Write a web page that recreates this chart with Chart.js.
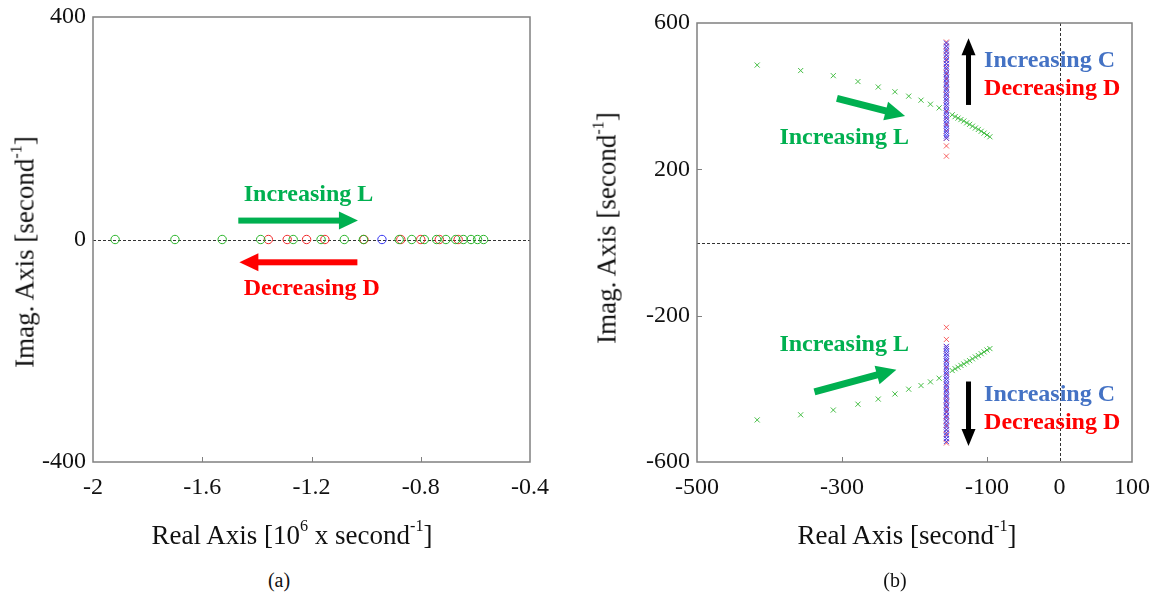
<!DOCTYPE html>
<html>
<head>
<meta charset="utf-8">
<script src="https://cdn.jsdelivr.net/npm/chart.js@4"></script>
<style>
  body { margin: 0; background: #fff; width: 1159px; height: 595px; position: relative; overflow: hidden; font-family: "Liberation Serif", serif; color: #111; }
  .box { position: absolute; top: 0; height: 520px; }
  #boxA { left: 0; width: 560px; }
  #boxB { left: 580px; width: 579px; }
  .lbl { position: absolute; font-size: 27px; white-space: nowrap; transform: translate(-50%, -50%); }
  .ylbl { transform: translate(-50%, -50%) rotate(-90deg); }
  .cap { font-size: 20px; }
  sup { font-size: 0.6em; vertical-align: 0.75em; line-height: 0; }
</style>
</head>
<body>
<div class="box" id="boxA"><canvas id="chartA"></canvas></div>
<div class="box" id="boxB"><canvas id="chartB"></canvas></div>

<div class="lbl ylbl" style="left:25px; top:252px;">Imag. Axis [second<sup>-1</sup>]</div>
<div class="lbl" style="left:292px; top:535px;">Real Axis [10<sup>6</sup> x second<sup>-1</sup>]</div>
<div class="lbl cap" style="left:279px; top:580px;">(a)</div>

<div class="lbl ylbl" style="left:607px; top:228px;">Imag. Axis [second<sup>-1</sup>]</div>
<div class="lbl" style="left:907px; top:535px;">Real Axis [second<sup>-1</sup>]</div>
<div class="lbl cap" style="left:895px; top:580px;">(b)</div>

<script>
// (a) real poles, 10^6 x second^-1 (all on the real axis)
const realL = [-1.919, -1.700, -1.527, -1.386, -1.267, -1.165, -1.080, -1.010, -0.879,
               -0.833, -0.787, -0.742, -0.708, -0.672, -0.644, -0.616, -0.592, -0.570];
const realD = [-1.358, -1.289, -1.218, -1.151, -1.008, -0.873, -0.800, -0.732, -0.663];
const realC = [-0.942];

// (b) complex poles, second^-1
const lUpperX = [-417, -357, -312, -278, -250, -227, -208, -191, -178, -166,
                 -148, -144, -140, -136, -132, -128, -124, -120, -116, -112, -108, -104, -100, -96];
const lUpperY = [485, 470, 456, 440, 425, 412, 400, 389, 378, 368,
                 349, 344, 340, 336, 332, 327, 323, 318, 313, 309, 304, 299, 294, 289];
const lLowerX = [-417, -357, -312, -278, -250, -227, -208, -191, -178, -166,
                 -148, -144, -140, -136, -132, -128, -124, -120, -116, -112, -108, -104, -100, -96];
const lLowerY = [-485, -471, -458, -442, -428, -414, -401, -391, -381, -371,
                 -350, -345, -341, -336, -332, -327, -323, -318, -313, -309, -304, -299, -294, -290];

const columnX = -156;
const cUpperY = [545, 537, 529, 521, 513, 505, 497, 489, 481, 474, 466, 459, 452, 445, 438, 431,
                 424, 417, 410, 403, 396, 389, 382, 375, 368, 361, 354, 347, 340, 333, 326, 319,
                 312, 305, 298, 291, 285];
const dUpperY = [548, 536, 524, 512, 500, 488, 476, 462, 448, 434, 420, 405, 390, 374, 358, 341,
                 323, 304, 285, 264, 236];
const cLowerY = [-544, -536, -528, -520, -512, -504, -496, -488, -480, -473, -465, -458, -451, -444,
                 -437, -430, -423, -416, -409, -402, -395, -388, -381, -374, -367, -360, -353, -346,
                 -339, -332, -325, -318, -311, -304, -297, -290, -284];
const dLowerY = [-548, -536, -524, -512, -500, -488, -476, -462, -448, -434, -420, -405, -390, -374,
                 -358, -341, -323, -304, -285, -265, -232];

const ticksAX = [-2, -1.6, -1.2, -0.8, -0.4];
const ticksAY = [-400, 0, 400];
const ticksBX = [-500, -300, -100, 0, 100];
const ticksBY = [-600, -200, 200, 600];

const GREEN = 'rgb(0,176,80)';
const RED = 'rgb(255,0,0)';
const BLUE = 'rgb(68,114,196)';

function arrow(ctx, x0, y0, x1, y1, w, hl, hw, color) {
  const ang = Math.atan2(y1 - y0, x1 - x0);
  const len = Math.hypot(x1 - x0, y1 - y0);
  ctx.save();
  ctx.translate(x0, y0);
  ctx.rotate(ang);
  ctx.fillStyle = color;
  ctx.fillRect(0, -w / 2, len - hl + 1, w);
  ctx.beginPath();
  ctx.moveTo(len, 0);
  ctx.lineTo(len - hl, -hw / 2);
  ctx.lineTo(len - hl, hw / 2);
  ctx.closePath();
  ctx.fill();
  ctx.restore();
}

// zero lines, box, inward ticks, arrows and labels
const decor = {
  id: 'decor',
  beforeDatasetsDraw(chart, args, opts) {
    const { ctx, chartArea: a, scales: { x, y } } = chart;
    ctx.save();
    ctx.strokeStyle = '#333';
    ctx.lineWidth = 1;
    ctx.setLineDash([3, 2]);
    ctx.beginPath();
    if (opts.zeroX) {
      const px = Math.round(x.getPixelForValue(0)) + 0.5;
      ctx.moveTo(px, a.top); ctx.lineTo(px, a.bottom);
    }
    const py = Math.round(y.getPixelForValue(0)) + 0.5;
    ctx.moveTo(a.left, py); ctx.lineTo(a.right, py);
    ctx.stroke();
    ctx.restore();
  },
  afterDraw(chart, args, opts) {
    const { ctx, chartArea: a, scales: { x, y } } = chart;
    ctx.save();
    ctx.strokeStyle = '#808080';
    ctx.lineWidth = 1.5;
    ctx.strokeRect(a.left, a.top, a.right - a.left, a.bottom - a.top);
    ctx.lineWidth = 1;
    ctx.beginPath();
    x.ticks.forEach((t, i) => {
      if (i === 0 || i === x.ticks.length - 1 || t.value === 0) return;
      const px = Math.round(x.getPixelForValue(t.value)) + 0.5;
      ctx.moveTo(px, a.bottom); ctx.lineTo(px, a.bottom - 5);
    });
    y.ticks.forEach((t, i) => {
      if (i === 0 || i === y.ticks.length - 1 || t.value === 0) return;
      const py = Math.round(y.getPixelForValue(t.value)) + 0.5;
      ctx.moveTo(a.left, py); ctx.lineTo(a.left + 5, py);
    });
    ctx.stroke();

    (opts.arrows || []).forEach(r => {
      arrow(ctx, x.getPixelForValue(r.from[0]), y.getPixelForValue(r.from[1]),
            x.getPixelForValue(r.to[0]), y.getPixelForValue(r.to[1]),
            r.w, r.hl, r.hw, r.color);
    });
    ctx.font = 'bold 24px "Liberation Serif"';
    ctx.textBaseline = 'alphabetic';
    (opts.texts || []).forEach(t => {
      ctx.fillStyle = t.color;
      ctx.textAlign = t.align || 'center';
      ctx.fillText(t.text, x.getPixelForValue(t.at[0]), y.getPixelForValue(t.at[1]));
    });
    ctx.restore();
  }
};

function pts(xs, ys) { return xs.map((v, i) => ({ x: v, y: ys[i] })); }

function scales(xr, yr, xTicks, yTicks, canvasH, bottom, yWidth) {
  const tickFont = { family: 'Liberation Serif', size: 24 };
  const fixTicks = list => s => { s.ticks = list.map(v => ({ value: v })); };
  const noPad = s => { s.paddingLeft = 0; s.paddingRight = 0; s.paddingTop = 0; s.paddingBottom = 0; };
  return {
    x: {
      type: 'linear', min: xr[0], max: xr[1],
      afterBuildTicks: fixTicks(xTicks),
      afterFit: s => { s.height = canvasH - bottom; noPad(s); },
      grid: { display: false, drawTicks: false },
      border: { display: false },
      ticks: { font: tickFont, color: '#111', padding: 11, maxRotation: 0,
               callback: v => String(Math.round(v * 10) / 10) }
    },
    y: {
      type: 'linear', min: yr[0], max: yr[1],
      afterBuildTicks: fixTicks(yTicks),
      afterFit: s => { s.width = yWidth; noPad(s); },
      grid: { display: false, drawTicks: false },
      border: { display: false },
      ticks: { font: tickFont, color: '#111', padding: 7,
               callback: v => String(Math.round(v)) }
    }
  };
}

const common = {
  responsive: true,
  maintainAspectRatio: false,
  animation: false,
  events: [],
  plugins: { legend: { display: false }, tooltip: { enabled: false } }
};

new Chart(document.getElementById('chartA'), {
  type: 'scatter',
  data: {
    datasets: [
      { data: realL.map(v => ({ x: v, y: 0 })), borderColor: 'rgb(40,180,40)' },
      { data: realD.map(v => ({ x: v, y: 0 })), borderColor: 'rgb(240,40,40)' },
      { data: realC.map(v => ({ x: v, y: 0 })), borderColor: 'rgb(50,50,240)' }
    ].map(d => Object.assign(d, { pointStyle: 'circle', pointRadius: 4.2, borderWidth: 1,
                                  backgroundColor: 'rgba(0,0,0,0)' }))
  },
  options: Object.assign({}, common, {
    layout: { autoPadding: false, padding: { top: 17, right: 30, left: 0, bottom: 0 } },
    scales: scales([-2, -0.4], [-400, 400], ticksAX, ticksAY, 520, 462, 93),
    plugins: Object.assign({}, common.plugins, {
      decor: {
        zeroX: false,
        arrows: [
          { from: [-1.468, 34], to: [-1.030, 34], w: 6, hl: 19, hw: 18, color: GREEN },
          { from: [-1.032, -41], to: [-1.464, -41], w: 6, hl: 19, hw: 18, color: RED }
        ],
        texts: [
          { text: 'Increasing L', at: [-1.211, 70], color: GREEN },
          { text: 'Decreasing D', at: [-1.199, -100], color: RED }
        ]
      }
    })
  }),
  plugins: [decor]
});

new Chart(document.getElementById('chartB'), {
  type: 'scatter',
  data: {
    datasets: [
      { data: pts(lUpperX, lUpperY), borderColor: 'rgb(70,190,70)' },
      { data: pts(lLowerX, lLowerY), borderColor: 'rgb(70,190,70)' },
      { data: cUpperY.map(v => ({ x: columnX, y: v })), borderColor: 'rgba(50,50,240,0.85)' },
      { data: cLowerY.map(v => ({ x: columnX, y: v })), borderColor: 'rgba(50,50,240,0.85)' },
      { data: dUpperY.map(v => ({ x: columnX, y: v })), borderColor: 'rgba(245,50,50,0.75)' },
      { data: dLowerY.map(v => ({ x: columnX, y: v })), borderColor: 'rgba(245,50,50,0.75)' }
    ].map(d => Object.assign(d, { pointStyle: 'crossRot', pointRadius: 3.6, borderWidth: 1 }))
  },
  options: Object.assign({}, common, {
    layout: { autoPadding: false, padding: { top: 23, right: 27, left: 0, bottom: 0 } },
    scales: scales([-500, 100], [-600, 600], ticksBX, ticksBY, 520, 462, 117),
    plugins: Object.assign({}, common.plugins, {
      decor: {
        zeroX: true,
        arrows: [
          { from: [-307, 394], to: [-213, 346], w: 7, hl: 20, hw: 19, color: GREEN },
          { from: [-338, -408], to: [-225, -348], w: 7, hl: 20, hw: 19, color: GREEN },
          { from: [-125.5, 376], to: [-125.5, 558], w: 5, hl: 17, hw: 14, color: '#000' },
          { from: [-125.5, -380], to: [-125.5, -556], w: 5, hl: 17, hw: 14, color: '#000' }
        ],
        texts: [
          { text: 'Increasing L', at: [-297, 269], color: GREEN },
          { text: 'Increasing L', at: [-297, -296], color: GREEN },
          { text: 'Increasing C', at: [-104, 481], color: BLUE, align: 'left' },
          { text: 'Decreasing D', at: [-104, 402], color: RED, align: 'left' },
          { text: 'Increasing C', at: [-104, -433], color: BLUE, align: 'left' },
          { text: 'Decreasing D', at: [-104, -509], color: RED, align: 'left' }
        ]
      }
    })
  }),
  plugins: [decor]
});
</script>
</body>
</html>
